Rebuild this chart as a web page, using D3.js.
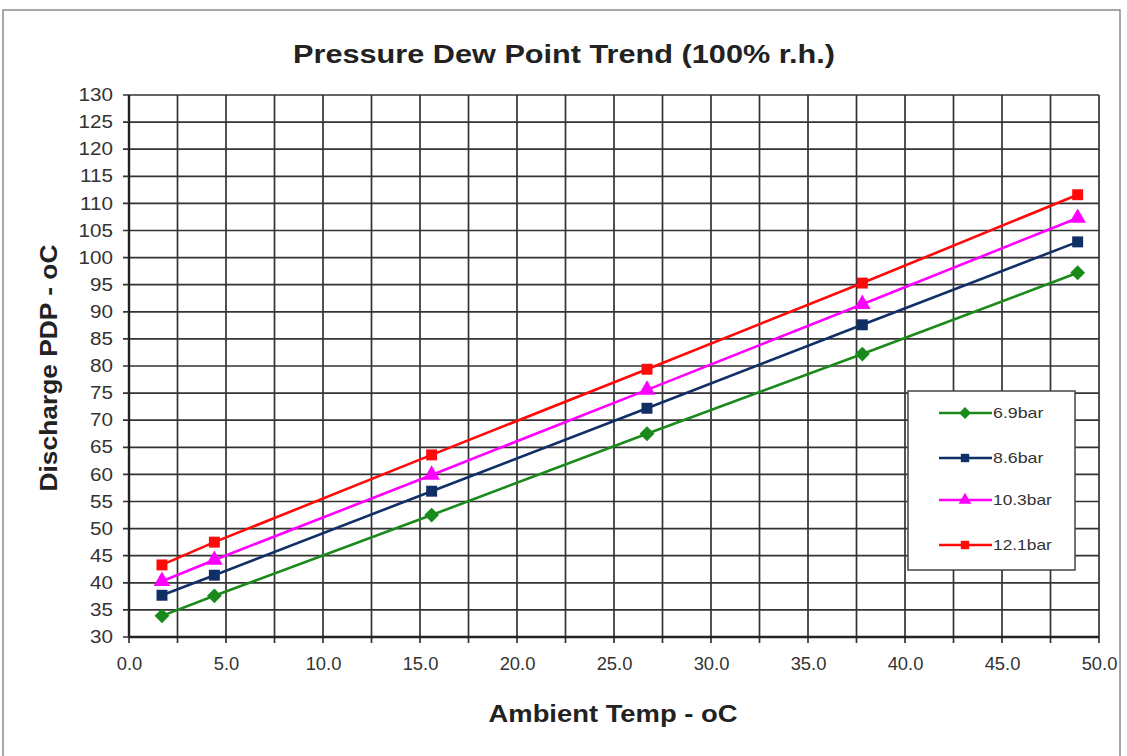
<!DOCTYPE html>
<html><head><meta charset="utf-8">
<script src="https://cdn.jsdelivr.net/npm/d3@7"></script>
<style>body{margin:0;background:#fff}svg{display:block}</style>
</head><body>
<script>
const temps = [1.7, 4.4, 15.6, 26.7, 37.8, 48.9];
const seriesNames = ["6.9bar", "8.6bar", "10.3bar", "12.1bar"];
const pdp69 = [33.9, 37.6, 52.5, 67.5, 82.2, 97.2];
const pdp86 = [37.7, 41.4, 56.9, 72.2, 87.6, 102.9];
const pdp103 = [40.3, 44.2, 59.9, 75.6, 91.4, 107.3];
const pdp121 = [43.3, 47.5, 63.6, 79.4, 95.3, 111.6];
const colors = ["#1a8a1a", "#0f2f66", "#ff00ff", "#ff0a0a"];
const xTicks = [0,5,10,15,20,25,30,35,40,45,50];
const yTicks = d3.range(30, 131, 5);

const diamond = { draw(ctx, size){ const r = Math.sqrt(size/2); ctx.moveTo(0,-r); ctx.lineTo(r,0); ctx.lineTo(0,r); ctx.lineTo(-r,0); ctx.closePath(); } };
const markers = [diamond, d3.symbolSquare, d3.symbolTriangle, d3.symbolSquare];
const markerSizes = [110, 120, 120, 120];

const FONT = "Liberation Sans, Arial, sans-serif";
const W = 1127, H = 756;
const svg = d3.select("body").append("svg").attr("width", W).attr("height", H);
svg.append("rect").attr("x",3).attr("y",10).attr("width",1117).attr("height",760)
  .attr("fill","none").attr("stroke","#8a8a8a").attr("stroke-width",1.5);

const x = d3.scaleLinear().domain([0,50]).range([129,1099]);
const y = d3.scaleLinear().domain([30,130]).range([637,95]);
const gridC = "#333";
const g = svg.append("g");
d3.range(0, 50.01, 2.5).forEach(v => {
  g.append("line").attr("x1",x(v)).attr("x2",x(v)).attr("y1",y(130)).attr("y2",y(30)+6)
    .attr("stroke",gridC).attr("stroke-width",1.7);
});
yTicks.forEach(v => {
  g.append("line").attr("x1",x(0)-6).attr("x2",x(50)).attr("y1",y(v)).attr("y2",y(v))
    .attr("stroke",gridC).attr("stroke-width",1.7);
});
g.append("line").attr("x1",x(0)).attr("x2",x(0)).attr("y1",y(130)).attr("y2",y(30)).attr("stroke","#222").attr("stroke-width",2.4);
g.append("line").attr("x1",x(0)).attr("x2",x(50)).attr("y1",y(30)).attr("y2",y(30)).attr("stroke","#222").attr("stroke-width",2.4);

const stretch = 1.18;
const yAxis = d3.axisLeft(y).tickValues(yTicks).tickSize(0).tickPadding(16).tickFormat(d3.format("d"));
svg.append("g").attr("transform",`translate(${x(0)},0)`).call(yAxis)
  .call(s=>s.select(".domain").remove())
  .selectAll("text").attr("font-family",FONT).attr("font-size",17.5).attr("fill","#333")
  .each(function(){ const t=d3.select(this); t.attr("textLength", this.getComputedTextLength()*stretch).attr("lengthAdjust","spacingAndGlyphs"); });
const xAxis = d3.axisBottom(x).tickValues(xTicks).tickSize(0).tickPadding(21).tickFormat(d3.format(".1f"));
svg.append("g").attr("transform",`translate(0,${y(30)})`).call(xAxis)
  .call(s=>s.select(".domain").remove())
  .selectAll("text").attr("font-family",FONT).attr("font-size",17.5).attr("fill","#333")
  .each(function(){ const t=d3.select(this); t.attr("textLength", this.getComputedTextLength()*1.05).attr("lengthAdjust","spacingAndGlyphs"); });

const allSeries = [pdp69, pdp86, pdp103, pdp121];
const line = d3.line().x((d,i)=>x(temps[i])).y(d=>y(d));
allSeries.forEach((vals, k) => {
  svg.append("path").datum(vals).attr("d", line).attr("fill","none")
    .attr("stroke",colors[k]).attr("stroke-width",2.6);
  svg.selectAll(null).data(vals).enter().append("path")
    .attr("d", d3.symbol().type(markers[k]).size(markerSizes[k]))
    .attr("transform",(d,i)=>`translate(${x(temps[i])},${y(d)})`)
    .attr("fill",colors[k]);
});

// legend
const lg = svg.append("g");
lg.append("rect").attr("x",908).attr("y",391).attr("width",167).attr("height",179)
  .attr("fill","#fff").attr("stroke","#444").attr("stroke-width",1.5);
const ly = [413, 458, 500, 545];
seriesNames.forEach((n,k)=>{
  lg.append("line").attr("x1",939).attr("x2",992).attr("y1",ly[k]).attr("y2",ly[k])
    .attr("stroke",colors[k]).attr("stroke-width",2.6);
  lg.append("path").attr("d", d3.symbol().type(markers[k]).size(70))
    .attr("transform",`translate(965,${ly[k]})`).attr("fill",colors[k]);
  lg.append("text").attr("x",993).attr("y",ly[k]+5).text(n)
    .attr("font-family",FONT).attr("font-size",15).attr("fill","#333")
    .attr("textLength", n.length*8.4).attr("lengthAdjust","spacingAndGlyphs");
});

svg.append("text").attr("x",564).attr("y",63).attr("text-anchor","middle")
  .attr("font-family",FONT).attr("font-weight","bold").attr("font-size",25)
  .attr("fill","#222").attr("textLength",542).attr("lengthAdjust","spacingAndGlyphs")
  .text("Pressure Dew Point Trend (100% r.h.)");
svg.append("text").attr("x",613).attr("y",722).attr("text-anchor","middle")
  .attr("font-family",FONT).attr("font-weight","bold").attr("font-size",23)
  .attr("fill","#222").attr("textLength",249).attr("lengthAdjust","spacingAndGlyphs")
  .text("Ambient Temp - oC");
svg.append("text").attr("transform","translate(57,368) rotate(-90)").attr("text-anchor","middle")
  .attr("font-family",FONT).attr("font-weight","bold").attr("font-size",23)
  .attr("fill","#222").attr("textLength",247).attr("lengthAdjust","spacingAndGlyphs")
  .text("Discharge PDP - oC");
</script>
</body></html>
